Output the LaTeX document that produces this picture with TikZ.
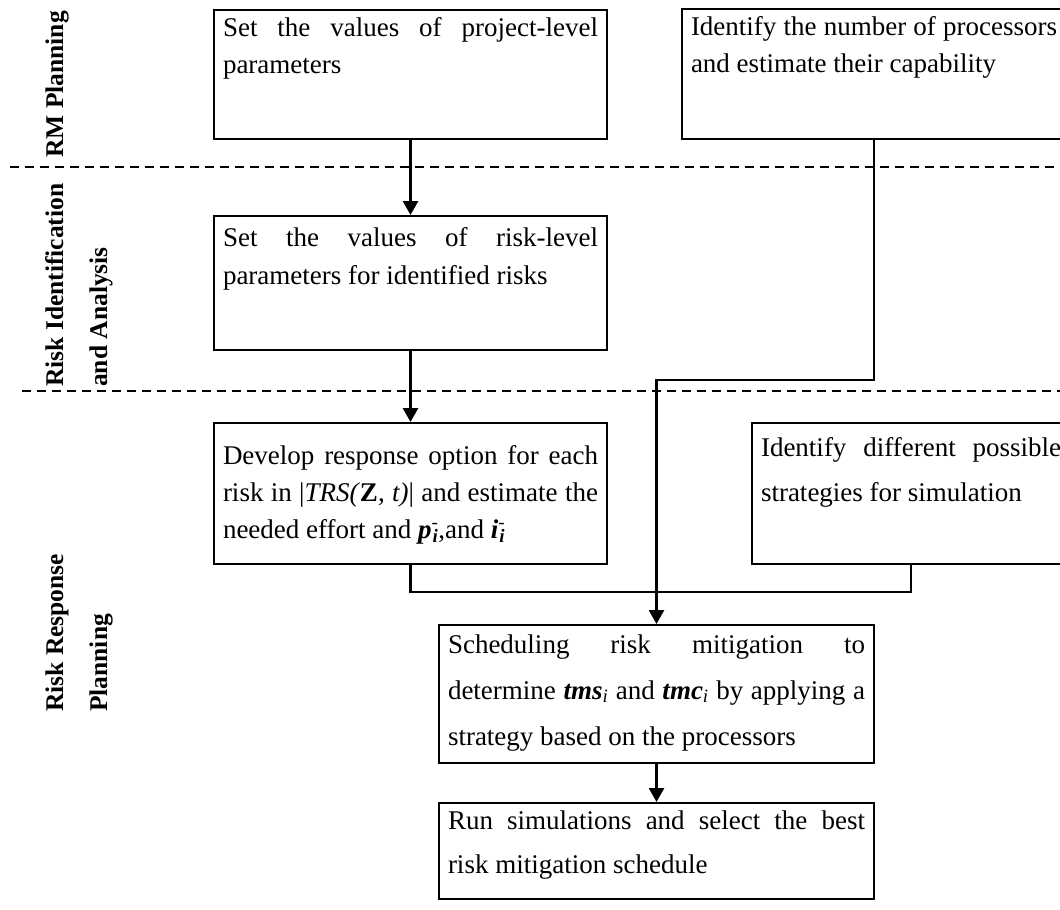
\documentclass[tikz,border=0pt]{standalone}
\usepackage{fontspec}
\setmainfont{Liberation Serif}
\usetikzlibrary{arrows.meta}

% justified text block: width, height, baselineskip, first-baseline offset, text
\newcommand{\boxtext}[5]{\parbox[c][#2pt][t]{#1pt}{\fontsize{27}{#3}\selectfont\rule{0pt}{#4pt}#5}}
% bold italic symbol with subscript i and a bar superscript stacked
\newcommand{\minusvar}[1]{\textbf{\textit{#1}}\textsuperscript{-}\llap{\textsubscript{\textbf{\textit{i}}}}}
\newcommand{\timevar}[1]{\textbf{\textit{#1}}\textsubscript{\textit{i}}}

\begin{document}
\begin{tikzpicture}[x=1pt,y=-1pt,
  blk/.style={draw, line width=2pt, inner xsep=9pt, inner ysep=0pt, anchor=north west},
  flow/.style={line width=2.7pt},
  arr/.style={flow, -{Triangle[width=15pt,length=14pt]}},
  phase/.style={line width=2pt, dash pattern=on 9pt off 6pt},
  lbl/.style={rotate=90, anchor=base west, inner sep=0pt,
              font=\fontsize{25.5}{30}\selectfont\bfseries}]
\useasboundingbox (0,0) rectangle (1060,910);
\clip (0,0) rectangle (1060,910);

% phase separators
\coordinate (s1a) at (10,167);  \coordinate (s1b) at (1060,167);
\coordinate (s2a) at (22,391);  \coordinate (s2b) at (1060,391);
\draw[phase] (s1a) -- (s1b);
\draw[phase] (s2a) -- (s2b);

% phase labels
\node[lbl] (rm)  at (63,158) {RM Planning};
\node[lbl] (ri1) at (63,387) {Risk Identification};
\node[lbl] (ri2) at (107,387) {and Analysis};
\node[lbl] (rr1) at (63,712) {Risk Response};
\node[lbl] (rr2) at (107,712) {Planning};

% process boxes
\node[blk] (proj) at (213,9) {\boxtext{375}{129}{37}{26}{Set the values of project-level\linebreak parameters}};
\node[blk] (proc) at (681,8) {\boxtext{366}{130}{37}{26}{Identify the number of processors\linebreak and estimate their capability}};
\node[blk] (risk) at (213,215) {\boxtext{375}{134}{38}{30}{Set the values of risk-level\linebreak parameters for identified risks}};
\node[blk] (resp) at (213,422) {\boxtext{375}{141}{37}{41}{Develop response option for each\linebreak
  risk in |\textit{TRS(}\textbf{Z}\textit{, t)}| and estimate the\linebreak
  needed effort and \minusvar{p},and \minusvar{i}}};
\node[blk] (strat) at (751,422) {\boxtext{300}{141}{45}{33}{Identify different possible\linebreak strategies for simulation}};
\node[blk] (sched) at (438,624) {\boxtext{417}{138}{46}{28}{Scheduling risk mitigation to\linebreak
  determine \timevar{tms} and \timevar{tmc} by applying a\linebreak
  strategy based on the processors}};
\node[blk] (run) at (438,802) {\boxtext{417}{96}{44}{26}{Run simulations and select the best\linebreak risk mitigation schedule}};

% connectors
\draw[arr] (proj.south) -- (risk.north);
\draw[arr] (risk.south) -- (resp.north);
\draw[flow] (resp.south) -- (resp.south |- 0,592) -| (strat.south);
\draw[arr] (proc.south) |- (sched.north |- 0,380) -- (sched.north);
\draw[arr] (sched.south) -- (run.north);
\end{tikzpicture}
\end{document}
